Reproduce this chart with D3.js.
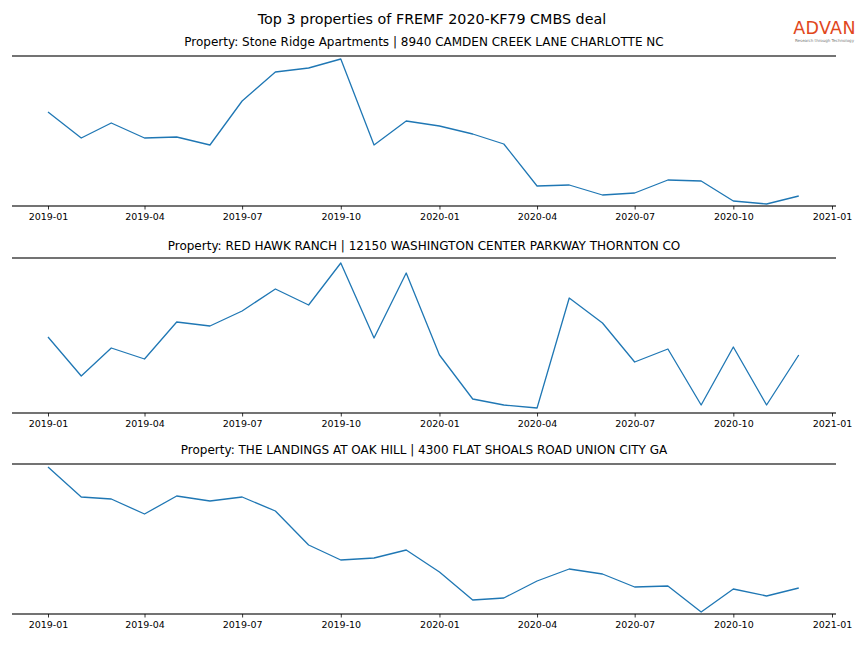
<!DOCTYPE html>
<html><head><meta charset="utf-8">
<script src="https://cdn.jsdelivr.net/npm/d3@7"></script>
<style>body{margin:0;background:#fff}svg{display:block}text{font-family:"DejaVu Sans",sans-serif}</style>
</head><body><div id="chart"></div>
<script>
const months = ["2019-01","2019-02","2019-03","2019-04","2019-05","2019-06","2019-07","2019-08","2019-09","2019-10","2019-11","2019-12",
"2020-01","2020-02","2020-03","2020-04","2020-05","2020-06","2020-07","2020-08","2020-09","2020-10","2020-11","2020-12"];
const titles = [
 "Property: Stone Ridge Apartments | 8940 CAMDEN CREEK LANE CHARLOTTE NC",
 "Property: RED HAWK RANCH | 12150 WASHINGTON CENTER PARKWAY THORNTON CO",
 "Property: THE LANDINGS AT OAK HILL | 4300 FLAT SHOALS ROAD UNION CITY GA"
];
const stoneRidge = [94,68,83,68,69,61,105,134,138,147,61,85,80,72,62,20,21,11,13,26,25,5,2,10];
const redHawk = [76,37,65,54,91,87,102,124,108,150,75,140,58,14,8,5,115,90,51,64,8,66,8,58];
const landings = [147,117,115,100,118,113,117,103,69,54,56,64,42,14,16,33,45,40,27,28,2,25,18,26];
const seriesList = [stoneRidge, redHawk, landings];
const yMax = [150, 155, 150];
const tickLabels = ["2019-01","2019-04","2019-07","2019-10","2020-01","2020-04","2020-07","2020-10","2021-01"];
const mainTitle = "Top 3 properties of FREMF 2020-KF79 CMBS deal";

const W = 864, H = 648;
const svg = d3.select("#chart").append("svg").attr("width", W).attr("height", H);
const parse = d3.timeParse("%Y-%m");
const x = d3.scaleTime().domain([parse("2019-01"), parse("2021-01")]).range([48, 832]);
const axLeft = 12, axRight = 836;
const panels = [{top:56, bottom:206, titleY:46},{top:258, bottom:413, titleY:250},{top:464, bottom:614, titleY:454}];

svg.append("text").attr("x", 432).attr("y", 24).attr("text-anchor","middle")
  .attr("font-size", 14.3).attr("fill","#000").text(mainTitle);

panels.forEach((p, i) => {
  const y = d3.scaleLinear().domain([0, yMax[i]]).range([p.bottom, p.top]);
  const g = svg.append("g");
  g.append("text").attr("x", (axLeft+axRight)/2).attr("y", p.titleY).attr("text-anchor","middle")
    .attr("font-size", 12).attr("fill","#000").text(titles[i]);
  const data = months.map((m, k) => ({d: parse(m), v: seriesList[i][k]}));
  g.append("path").datum(data).attr("fill","none").attr("stroke","#1f77b4").attr("stroke-width",1.3)
    .attr("stroke-linejoin","round")
    .attr("d", d3.line().x(d => x(d.d)).y(d => y(d.v)));
  [p.top, p.bottom].forEach(yy => g.append("line").attr("x1", axLeft).attr("x2", axRight)
    .attr("y1", yy).attr("y2", yy).attr("stroke","#444").attr("stroke-width",1.6));
  const axis = d3.axisBottom(x).tickValues(tickLabels.map(parse)).tickFormat(d3.timeFormat("%Y-%m"))
    .tickSize(3.5).tickPadding(3.5);
  const ag = g.append("g").attr("transform", `translate(0,${p.bottom})`).call(axis);
  ag.select(".domain").remove();
  ag.selectAll("text").attr("font-size", 9.5).attr("font-family","DejaVu Sans").attr("fill","#000");
  ag.selectAll("line").attr("stroke","#000").attr("stroke-width",0.8);
});

// logo
svg.append("text").attr("x", 824.5).attr("y", 33.5).attr("text-anchor","middle")
  .attr("font-size", 17.5).attr("font-weight", 500).attr("font-family","Lato, sans-serif").attr("fill","#e1471c").attr("letter-spacing", 0.3).text("ADVAN");
svg.append("text").attr("x", 824.5).attr("y", 41.5).attr("text-anchor","middle")
  .attr("font-size", 4).attr("fill","#777").text("Research through Technology");
</script></body></html>
